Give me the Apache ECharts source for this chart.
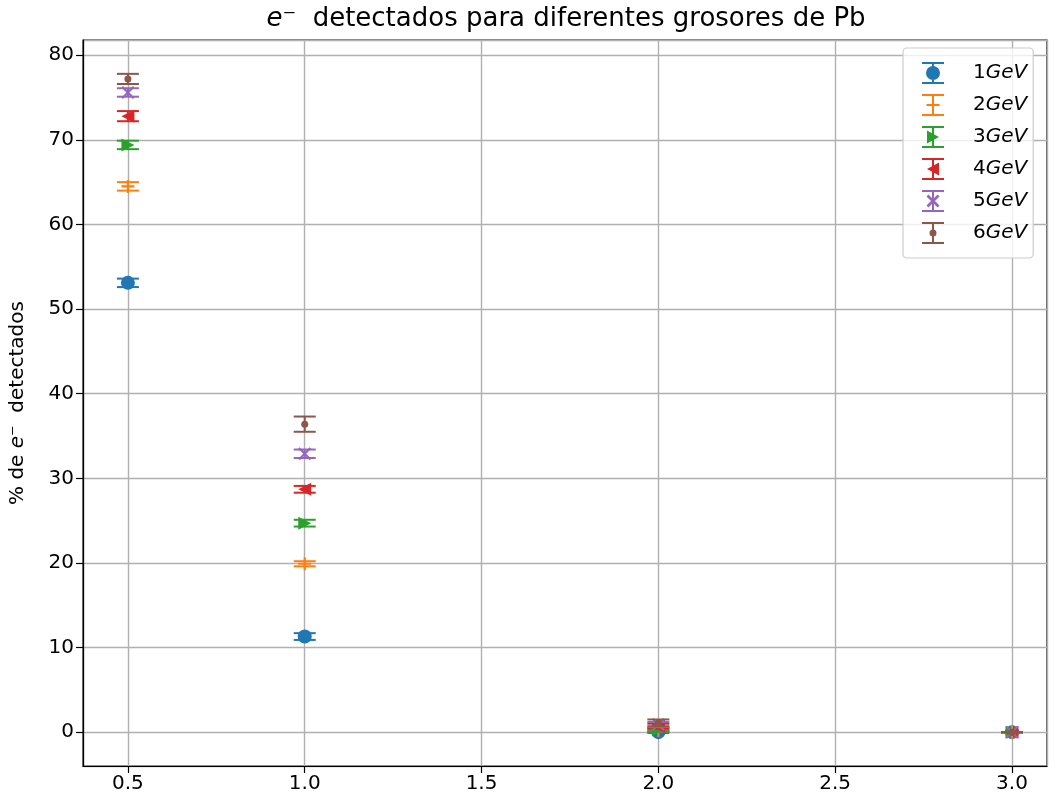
<!DOCTYPE html>
<html>
<head>
<meta charset="utf-8">
<script src="https://cdn.jsdelivr.net/npm/echarts@6/dist/echarts.min.js"></script>
<style>
  html, body { margin: 0; padding: 0; background: #fff; }
  #chart { width: 1057px; height: 803px; }
</style>
</head>
<body>
<div id="chart"></div>
<script>
// Lead thickness values (x) and detected-electron percentages with their uncertainties
const thickness = [0.5, 1.0, 2.0, 3.0];
const energies = ['1GeV', '2GeV', '3GeV', '4GeV', '5GeV', '6GeV'];

const pct1GeV = [53.1, 11.3, 0.0, 0.0];
const err1GeV = [0.5, 0.4, 0.1, 0.0];
const pct2GeV = [64.5, 19.9, 0.2, 0.0];
const err2GeV = [0.5, 0.3, 0.1, 0.0];
const pct3GeV = [69.4, 24.7, 0.3, 0.0];
const err3GeV = [0.5, 0.4, 0.2, 0.0];
const pct4GeV = [72.8, 28.7, 0.7, 0.0];
const err4GeV = [0.6, 0.4, 0.3, 0.0];
const pct5GeV = [75.6, 32.9, 0.9, 0.0];
const err5GeV = [0.5, 0.5, 0.3, 0.0];
const pct6GeV = [77.2, 36.4, 1.1, 0.0];
const err6GeV = [0.6, 0.9, 0.4, 0.0];

const yTicks = [0, 10, 20, 30, 40, 50, 60, 70, 80];
const xTicks = [0.5, 1.0, 1.5, 2.0, 2.5, 3.0];

const values = [pct1GeV, pct2GeV, pct3GeV, pct4GeV, pct5GeV, pct6GeV];
const errors = [err1GeV, err2GeV, err3GeV, err4GeV, err5GeV, err6GeV];
const colors = ['#1f77b4', '#ff7f0e', '#2ca02c', '#d62728', '#9467bd', '#8c564b'];

// Marker outlines drawn in a 12x12 box (all sub-paths clockwise so overlaps stay filled)
const markerPaths = [
  'M0,6 A6,6 0 1,1 12,6 A6,6 0 1,1 0,6 Z',
  'M0,5 L12,5 L12,7 L0,7 Z M5,0 L7,0 L7,12 L5,12 Z',
  'M0,0 L12,6 L0,12 Z',
  'M12,0 L12,12 L0,6 Z',
  'M1.4,0 L12,10.6 L10.6,12 L0,1.4 Z M10.6,0 L12,1.4 L1.4,12 L0,10.6 Z',
  'M3,6 A3,3 0 1,1 9,6 A3,3 0 1,1 3,6 Z'
];
const markerSizes = [14, 13, 13, 13, 13, 7];

// Legend handles: error bar with caps plus the marker, in a 22x22 box
const legendMarkers = [
  'M4,11 A7,7 0 1,1 18,11 A7,7 0 1,1 4,11 Z',
  'M4.5,10 L17.5,10 L17.5,12 L4.5,12 Z',
  'M5,4.5 L17,11 L5,17.5 Z',
  'M17,4.5 L17,17.5 L5,11 Z',
  'M6.4,4.5 L17.5,15.6 L15.6,17.5 L4.5,6.4 Z M15.6,4.5 L17.5,6.4 L6.4,17.5 L4.5,15.6 Z',
  'M7.5,11 A3.5,3.5 0 1,1 14.5,11 A3.5,3.5 0 1,1 7.5,11 Z'
];
const legendIcons = legendMarkers.map(m =>
  'path://M0,0 L22,0 L22,2 L0,2 Z M10,0 L12,0 L12,22 L10,22 Z M0,20 L22,20 L22,22 L0,22 Z ' + m
);

const FONT = 'DejaVu Sans';

const series = [];
energies.forEach((name, k) => {
  const errData = thickness.map((x, i) => [x, values[k][i], errors[k][i]]);
  series.push({
    type: 'custom',
    name: name + '_err',
    z: 10 + 2 * k,
    silent: true,
    encode: { x: 0, y: 1 },
    data: errData,
    renderItem: (params, api) => {
      const x = api.value(0), y = api.value(1), e = api.value(2);
      const top = api.coord([x, y + e]);
      const bot = api.coord([x, y - e]);
      const half = 11;
      const style = { stroke: colors[k], lineWidth: 2, fill: null };
      return {
        type: 'group',
        children: [
          { type: 'line', shape: { x1: top[0], y1: top[1], x2: bot[0], y2: bot[1] }, style },
          { type: 'line', shape: { x1: top[0] - half, y1: top[1], x2: top[0] + half, y2: top[1] }, style },
          { type: 'line', shape: { x1: bot[0] - half, y1: bot[1], x2: bot[0] + half, y2: bot[1] }, style }
        ]
      };
    }
  });
  series.push({
    type: 'scatter',
    name: name,
    z: 11 + 2 * k,
    symbol: 'path://' + markerPaths[k],
    symbolSize: markerSizes[k],
    itemStyle: { color: colors[k], opacity: 1, borderWidth: 0 },
    emphasis: { disabled: true },
    data: thickness.map((x, i) => [x, values[k][i]])
  });
});

const chart = echarts.init(document.getElementById('chart'), null, { renderer: 'canvas' });
chart.setOption({
  animation: false,
  backgroundColor: '#ffffff',
  textStyle: { fontFamily: FONT },
  grid: {
    left: 83, right: 10, top: 40, bottom: 37,
    containLabel: false,
    outerBoundsMode: 'none',
    show: true,
    borderColor: '#000000',
    borderWidth: 1.2,
    backgroundColor: 'transparent'
  },
  graphic: [{
    type: 'text',
    x: 566,
    y: 19,
    z: 100,
    style: {
      text: '{i|e}⁻  detectados para diferentes grosores de Pb',
      align: 'center',
      verticalAlign: 'middle',
      fontFamily: FONT,
      fontSize: 26,
      fill: '#000',
      rich: { i: { fontStyle: 'italic', fontFamily: FONT, fontSize: 26, fill: '#000' } }
    }
  }],
  xAxis: {
    type: 'value',
    min: 0.373,
    max: 3.099,
    minInterval: 0.5,
    maxInterval: 0.5,
    axisLine: { show: true, onZero: false, lineStyle: { color: '#000', width: 1.2 } },
    axisTick: { show: true, length: 7, lineStyle: { color: '#000', width: 1.2 } },
    axisLabel: {
      show: true,
      showMinLabel: false,
      showMaxLabel: false,
      margin: 8,
      color: '#000',
      fontFamily: FONT,
      fontSize: 20,
      formatter: v => xTicks.some(t => Math.abs(t - v) < 1e-9) ? v.toFixed(1) : ''
    },
    splitLine: { show: true, lineStyle: { color: '#b0b0b0', width: 1.4 } }
  },
  yAxis: {
    type: 'value',
    min: -4.0,
    max: 81.8,
    minInterval: 10,
    maxInterval: 10,
    name: '% de {i|e}⁻  detectados',
    nameLocation: 'middle',
    nameGap: 55,
    nameRotate: 90,
    nameTextStyle: {
      color: '#000',
      fontFamily: FONT,
      fontSize: 20,
      rich: { i: { fontStyle: 'italic', fontFamily: FONT, fontSize: 20, color: '#000' } }
    },
    axisLine: { show: true, onZero: false, lineStyle: { color: '#000', width: 1.2 } },
    axisTick: { show: true, length: 7, lineStyle: { color: '#000', width: 1.2 } },
    axisLabel: {
      show: true,
      showMinLabel: false,
      showMaxLabel: false,
      margin: 9,
      color: '#000',
      fontFamily: FONT,
      fontSize: 20,
      formatter: v => yTicks.some(t => Math.abs(t - v) < 1e-9) ? String(v) : ''
    },
    splitLine: { show: true, lineStyle: { color: '#b0b0b0', width: 1.4 } }
  },
  legend: {
    orient: 'vertical',
    left: 903,
    top: 48,
    padding: [14, 6, 14, 19],
    itemWidth: 22,
    itemHeight: 22,
    itemGap: 10,
    selectedMode: false,
    backgroundColor: 'rgba(255,255,255,0.8)',
    borderColor: '#cccccc',
    borderWidth: 1.2,
    borderRadius: 4,
    itemStyle: { borderWidth: 0 },
    data: energies.map((n, k) => ({ name: n, icon: legendIcons[k] })),
    formatter: name => '{n|' + name.replace('GeV', '') + '}{i|GeV}',
    textStyle: {
      color: '#000',
      fontFamily: FONT,
      fontSize: 20,
      rich: {
        n: { fontFamily: FONT, fontSize: 20, color: '#000', padding: [0, 0, 0, 24], lineHeight: 22 },
        i: { fontFamily: FONT, fontSize: 20, fontStyle: 'italic', color: '#000', lineHeight: 22 }
      }
    }
  },
  series: series
});
</script>
</body>
</html>
